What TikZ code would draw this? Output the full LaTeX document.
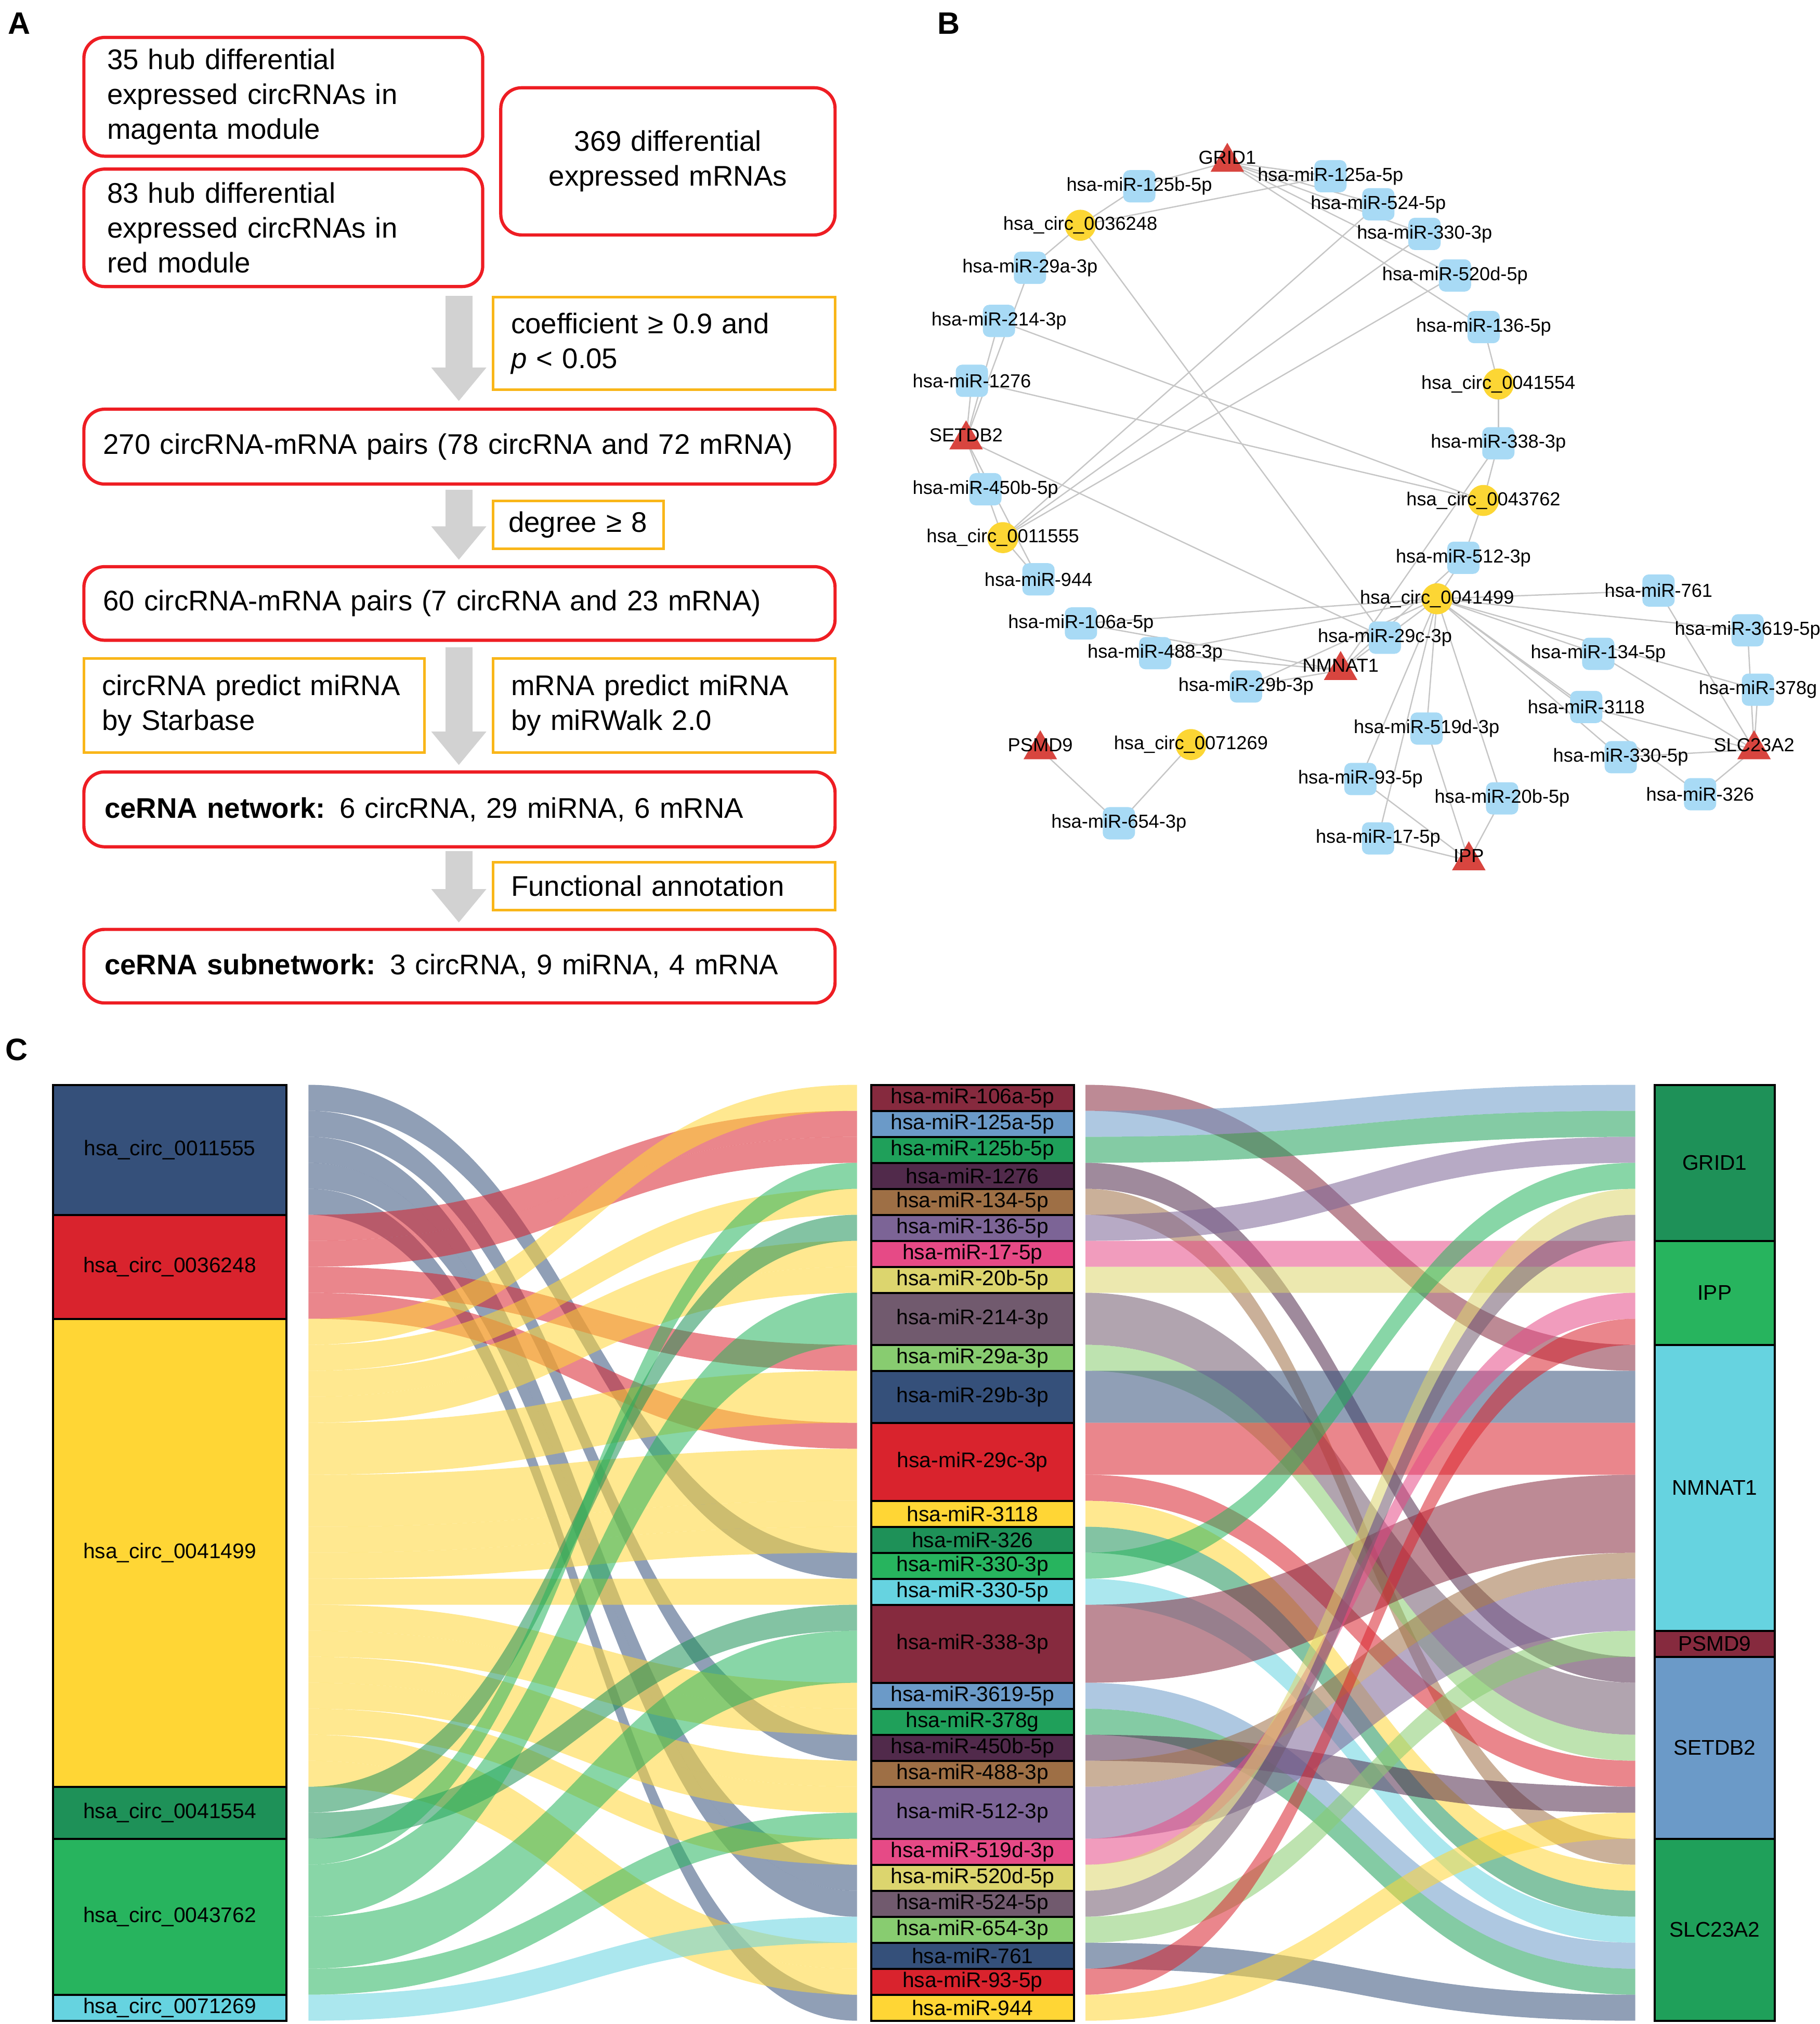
\documentclass[tikz,border=0pt]{standalone}
\usepackage{fontspec}
\setmainfont{Liberation Sans}
\usetikzlibrary{calc,shapes.geometric,arrows.meta}

\definecolor{boxred}{HTML}{EE1D23}
\definecolor{boxyel}{HTML}{F9B619}
\definecolor{arrgray}{HTML}{D2D2D2}
\definecolor{edgegray}{HTML}{C6C6C6}
\definecolor{mirblue}{HTML}{A8DAF5}
\definecolor{circyel}{HTML}{FCD634}
\definecolor{mrnared}{HTML}{D8453F}
\definecolor{pal1}{HTML}{862A3E}
\definecolor{pal2}{HTML}{6B9AC8}
\definecolor{pal3}{HTML}{1FA05A}
\definecolor{pal4}{HTML}{512A4B}
\definecolor{pal5}{HTML}{9E6F45}
\definecolor{pal6}{HTML}{7C6496}
\definecolor{pal7}{HTML}{E64A86}
\definecolor{pal8}{HTML}{DCD56E}
\definecolor{pal9}{HTML}{715A6E}
\definecolor{pal10}{HTML}{88CC70}
\definecolor{pal11}{HTML}{35507A}
\definecolor{pal12}{HTML}{D9232D}
\definecolor{pal13}{HTML}{FFD635}
\definecolor{pal14}{HTML}{1E9158}
\definecolor{pal15}{HTML}{27B45E}
\definecolor{pal16}{HTML}{66D3E0}

\pgfdeclarelayer{bg}
\pgfsetlayers{bg,main}

% ribbon between two columns: x0, x1, first slot left, first slot right, slots, colour
\newcommand\flowband[6]{%
  \pgfmathsetmacro\ya{840.4+20.14*#3}
  \pgfmathsetmacro\yb{840.4+20.14*#4}
  \pgfmathsetmacro\yaa{\ya+20.14*#5}
  \pgfmathsetmacro\ybb{\yb+20.14*#5}
  \pgfmathsetmacro\xm{(#1+#2)/2}
  \fill[#6, fill opacity=.55] (#1,\ya) .. controls (\xm,\ya) and (\xm,\yb) .. (#2,\yb)
    -- (#2,\ybb) .. controls (\xm,\ybb) and (\xm,\yaa) .. (#1,\yaa) -- cycle;
}

\tikzset{
  panel/.style={font=\fontsize{12}{14}\selectfont\bfseries},
  redbox/.style={draw=boxred, line width=1.25pt, rounded corners=8pt, inner xsep=9pt,
    inner ysep=0pt, font=\fontsize{11}{13.5}\selectfont},
  yelbox/.style={draw=boxyel, line width=1pt, inner xsep=7pt, inner ysep=0pt, align=left,
    font=\fontsize{11}{13.5}\selectfont},
  bigarrow/.style={arrgray, line width=10.5pt, -{Triangle[width=20.5pt,length=13pt]}},
  lab/.style={font=\fontsize{7.3}{8}\selectfont, inner sep=0pt},
  mir/.style={fill=mirblue, rounded corners=2.5pt, minimum size=12.5pt, inner sep=0pt},
  circ/.style={circle, fill=circyel, minimum size=12pt, inner sep=0pt},
  mrna/.style={regular polygon, regular polygon sides=3, fill=mrnared, minimum size=15pt, inner sep=0pt},
  net/.style={edgegray, line width=0.5pt},
  stratum/.style={draw=black, line width=0.8pt, inner sep=0pt, font=\fontsize{8.2}{9}\selectfont}
}

\begin{document}
\begin{tikzpicture}[x=0.5pt, y=-0.5pt]
\useasboundingbox (0,0) rectangle (1410,1568);

% panel letters
\node[panel] (labA) at (15,18) {A};
\node[panel] (labB) at (735,18) {B};
\node[panel] (labC) at (13,813) {C};

%%% A: workflow
\node[redbox, text width=136.5pt, minimum height=46pt, align=left] (hub35) at (219.5,75)
  {35 hub differential\\expressed circRNAs in\\magenta module};
\node[redbox, text width=136.5pt, minimum height=45.5pt, align=left] (hub83) at (219.5,176.5)
  {83 hub differential\\expressed circRNAs in\\red module};
\node[redbox, text width=111.5pt, minimum height=57pt, align=center] (mrna369) at (517.5,125)
  {369 differential\\expressed mRNAs};
\node[yelbox, text width=118.5pt, minimum height=36pt] (filt1) at (514.5,266)
  {coefficient ≥ 0.9 and\\\textit{p} < 0.05};
\node[redbox, inner xsep=7.5pt, text width=276pt, minimum height=29pt, align=left] (pairs270) at (356,346)
  {270 circRNA-mRNA pairs (78 circRNA and 72 mRNA)};
\node[yelbox, inner xsep=6pt, text width=54pt, minimum height=18.5pt] (filt2) at (448,406.5)
  {\mbox{degree ≥ 8}};
\node[redbox, inner xsep=7.5pt, text width=276pt, minimum height=28.5pt, align=left] (pairs60) at (356,467.5)
  {60 circRNA-mRNA pairs (7 circRNA and 23 mRNA)};
\node[yelbox, text width=118pt, minimum height=36.5pt] (pred1) at (197,546.5)
  {circRNA predict miRNA\\by Starbase};
\node[yelbox, text width=118.5pt, minimum height=36.5pt] (pred2) at (514.5,546.5)
  {mRNA predict miRNA\\by miRWalk 2.0};
\node[redbox, inner xsep=8pt, text width=275pt, minimum height=29pt, align=left] (cenet) at (356,627)
  {\textbf{ceRNA network:} 6 circRNA, 29 miRNA, 6 mRNA};
\node[yelbox, text width=118.5pt, minimum height=18.5pt] (func) at (514.5,686.5) {Functional annotation};
\node[redbox, inner xsep=8pt, text width=275pt, minimum height=28.5pt, align=left] (cesub) at (356,748.5)
  {\textbf{ceRNA subnetwork:} 3 circRNA, 9 miRNA, 4 mRNA};

\coordinate (ax) at (355.5,0);
\draw[bigarrow, shorten <=3pt, shorten >=2.5pt] (hub83.south -| ax) -- (pairs270.north -| ax);
\draw[bigarrow, shorten <=1.5pt, shorten >=2pt] (pairs270.south -| ax) -- (pairs60.north -| ax);
\draw[bigarrow, shorten <=2pt, shorten >=2pt] (pairs60.south -| ax) -- (cenet.north -| ax);
\draw[bigarrow, shorten <=1pt, shorten >=2pt] (cenet.south -| ax) -- (cesub.north -| ax);

%%% B: network
\foreach \nm/\x/\y/\lbl in {m125b/882.7/144.3/hsa-miR-125b-5p, m125a/1030.8/136.5/hsa-miR-125a-5p,
    m524/1067.9/158.3/hsa-miR-524-5p, m330t/1103.7/181.2/hsa-miR-330-3p,
    m520d/1127.3/213.4/hsa-miR-520d-5p, m136/1149.5/253.4/hsa-miR-136-5p,
    m338/1160.9/343.4/hsa-miR-338-3p, m512/1133.8/432.1/hsa-miR-512-3p,
    m29a/798/207.5/hsa-miR-29a-3p, m214/774/248.6/hsa-miR-214-3p,
    m1276/753/295/hsa-miR-1276, m450b/763.5/379/hsa-miR-450b-5p,
    m944/804.6/448.8/hsa-miR-944, m106a/837.5/483/hsa-miR-106a-5p,
    m488/895/506/hsa-miR-488-3p, m29b/965.4/531.8/hsa-miR-29b-3p,
    m29c/1073/494/hsa-miR-29c-3p, m761/1285/457.5/hsa-miR-761,
    m3619/1354/488.3/hsa-miR-3619-5p, m134/1238.3/506.5/hsa-miR-134-5p,
    m378g/1362/534.3/hsa-miR-378g, m3118/1229/547.7/hsa-miR-3118,
    m519d/1105.3/564.4/hsa-miR-519d-3p, m330f/1255.7/586.6/hsa-miR-330-5p,
    m93/1054/603.5/hsa-miR-93-5p, m20b/1163.8/618.5/hsa-miR-20b-5p,
    m326/1317.2/615.3/hsa-miR-326, m17/1067.7/649.5/hsa-miR-17-5p,
    m654/866.9/637.8/hsa-miR-654-3p}
  \node[mir, label={[lab]center:\lbl}] (\nm) at (\x,\y) {};

\foreach \nm/\x/\y/\lbl in {c36248/837/174.5/hsa\_circ\_0036248, c41554/1160.9/297.5/hsa\_circ\_0041554,
    c43762/1149.3/387.7/hsa\_circ\_0043762, c11555/777/416.5/hsa\_circ\_0011555,
    c41499/1113.4/463.9/hsa\_circ\_0041499, c71269/922.7/576.8/hsa\_circ\_0071269}
  \node[circ, label={[lab]center:\lbl}] (\nm) at (\x,\y) {};

\foreach \nm/\x/\y/\lbl in {grid/950.9/125.6/GRID1, setdb/748.5/340.6/SETDB2,
    nmnat/1038.7/519.3/NMNAT1, psmd/806/580.7/PSMD9, slc/1359/580.7/SLC23A2, ipp/1138/666.7/IPP}
  \node[mrna, label={[lab,yshift=1.8pt]center:\lbl}] (\nm) at (\x,\y) {};

\begin{pgfonlayer}{bg}
\foreach \a/\b in {c11555/m330t, c11555/m450b, c11555/m520d, c11555/m524, c11555/m944,
    c36248/m125a, c36248/m125b, c36248/m29a, c36248/m29c,
    c41499/m106a, c41499/m134, c41499/m17, c41499/m20b, c41499/m29b, c41499/m29c,
    c41499/m3118, c41499/m326, c41499/m330f, c41499/m3619, c41499/m378g, c41499/m488,
    c41499/m512, c41499/m519d, c41499/m761, c41499/m93,
    c41554/m136, c41554/m338, c43762/m1276, c43762/m214, c43762/m338, c43762/m512,
    c71269/m654,
    grid/m125a, grid/m125b, grid/m136, grid/m330t, grid/m520d, grid/m524,
    ipp/m17, ipp/m20b, ipp/m519d, ipp/m93,
    nmnat/m106a, nmnat/m29b, nmnat/m29c, nmnat/m338, nmnat/m488, nmnat/m512,
    psmd/m654,
    setdb/m1276, setdb/m214, setdb/m29a, setdb/m29c, setdb/m450b, setdb/m944,
    slc/m134, slc/m3118, slc/m326, slc/m330f, slc/m3619, slc/m378g, slc/m761}
  \draw[net] (\a.center) -- (\b.center);
\end{pgfonlayer}

%%% C: alluvial plot
% circRNA -> miRNA
\foreach \a/\b/\n/\c in {0/18/1/pal11, 1/25/1/pal11, 2/30/1/pal11, 3/31/1/pal11, 4/35/1/pal11,
    5/1/1/pal12, 6/2/1/pal12, 7/10/1/pal12, 8/13/1/pal12,
    9/0/1/pal13, 10/4/1/pal13, 11/6/1/pal13, 12/7/1/pal13, 13/11/2/pal13, 15/14/2/pal13,
    17/16/1/pal13, 18/17/1/pal13, 19/19/1/pal13, 20/23/1/pal13, 21/24/1/pal13, 22/26/1/pal13,
    23/27/1/pal13, 24/29/1/pal13, 25/33/1/pal13, 26/34/1/pal13,
    27/5/1/pal14, 28/20/1/pal14,
    29/3/1/pal15, 30/8/2/pal15, 32/21/2/pal15, 34/28/1/pal15,
    35/32/1/pal16}
  {\flowband{239}{664}{\a}{\b}{\n}{\c}}

% miRNA -> mRNA
\foreach \a/\b/\n/\c in {0/10/1/pal1, 1/0/1/pal2, 2/1/1/pal3, 3/22/1/pal4, 4/29/1/pal5, 5/2/1/pal6,
    6/6/1/pal7, 7/7/1/pal8, 8/23/2/pal9, 10/25/1/pal10, 11/11/2/pal11, 13/13/2/pal12,
    15/26/1/pal12, 16/30/1/pal13, 17/31/1/pal14, 18/3/1/pal15, 19/32/1/pal16, 20/15/3/pal1,
    23/33/1/pal2, 24/34/1/pal3, 25/27/1/pal4, 26/18/1/pal5, 27/19/2/pal6, 29/8/1/pal7,
    30/4/1/pal8, 31/5/1/pal9, 32/21/1/pal10, 33/35/1/pal11, 34/9/1/pal12, 35/28/1/pal13}
  {\flowband{841}{1267}{\a}{\b}{\n}{\c}}

% strata
\foreach \nm/\lbl/\s/\n/\c in {sc11555/hsa\_circ\_0011555/0/5/pal11, sc36248/hsa\_circ\_0036248/5/4/pal12,
    sc41499/hsa\_circ\_0041499/9/18/pal13, sc41554/hsa\_circ\_0041554/27/2/pal14,
    sc43762/hsa\_circ\_0043762/29/6/pal15, sc71269/hsa\_circ\_0071269/35/1/pal16} {
  \pgfmathsetmacro\yc{840.4+20.14*(\s+\n/2)}
  \pgfmathsetmacro\hh{10.07*\n}
  \node[stratum, fill=\c, minimum width=90.5pt, minimum height=\hh pt] (\nm) at (131.5,\yc) {\lbl};
}

\foreach \nm/\lbl/\s/\n/\c in {sm106a/hsa-miR-106a-5p/0/1/pal1, sm125a/hsa-miR-125a-5p/1/1/pal2,
    sm125b/hsa-miR-125b-5p/2/1/pal3, sm1276/hsa-miR-1276/3/1/pal4, sm134/hsa-miR-134-5p/4/1/pal5,
    sm136/hsa-miR-136-5p/5/1/pal6, sm17/hsa-miR-17-5p/6/1/pal7, sm20b/hsa-miR-20b-5p/7/1/pal8,
    sm214/hsa-miR-214-3p/8/2/pal9, sm29a/hsa-miR-29a-3p/10/1/pal10, sm29b/hsa-miR-29b-3p/11/2/pal11,
    sm29c/hsa-miR-29c-3p/13/3/pal12, sm3118/hsa-miR-3118/16/1/pal13, sm326/hsa-miR-326/17/1/pal14,
    sm330t/hsa-miR-330-3p/18/1/pal15, sm330f/hsa-miR-330-5p/19/1/pal16, sm338/hsa-miR-338-3p/20/3/pal1,
    sm3619/hsa-miR-3619-5p/23/1/pal2, sm378g/hsa-miR-378g/24/1/pal3, sm450b/hsa-miR-450b-5p/25/1/pal4,
    sm488/hsa-miR-488-3p/26/1/pal5, sm512/hsa-miR-512-3p/27/2/pal6, sm519d/hsa-miR-519d-3p/29/1/pal7,
    sm520d/hsa-miR-520d-5p/30/1/pal8, sm524/hsa-miR-524-5p/31/1/pal9, sm654/hsa-miR-654-3p/32/1/pal10,
    sm761/hsa-miR-761/33/1/pal11, sm93/hsa-miR-93-5p/34/1/pal12, sm944/hsa-miR-944/35/1/pal13} {
  \pgfmathsetmacro\yc{840.4+20.14*(\s+\n/2)}
  \pgfmathsetmacro\hh{10.07*\n}
  \node[stratum, fill=\c, minimum width=78.5pt, minimum height=\hh pt] (\nm) at (753.5,\yc) {\lbl};
}

\foreach \nm/\lbl/\s/\n/\c in {sgrid/GRID1/0/6/pal14, sipp/IPP/6/4/pal15, snmnat/NMNAT1/10/11/pal16,
    spsmd/PSMD9/21/1/pal1, ssetdb/SETDB2/22/7/pal2, sslc/SLC23A2/29/7/pal3} {
  \pgfmathsetmacro\yc{840.4+20.14*(\s+\n/2)}
  \pgfmathsetmacro\hh{10.07*\n}
  \node[stratum, fill=\c, minimum width=46.5pt, minimum height=\hh pt] (\nm) at (1328.5,\yc) {\lbl};
}
\end{tikzpicture}
\end{document}
